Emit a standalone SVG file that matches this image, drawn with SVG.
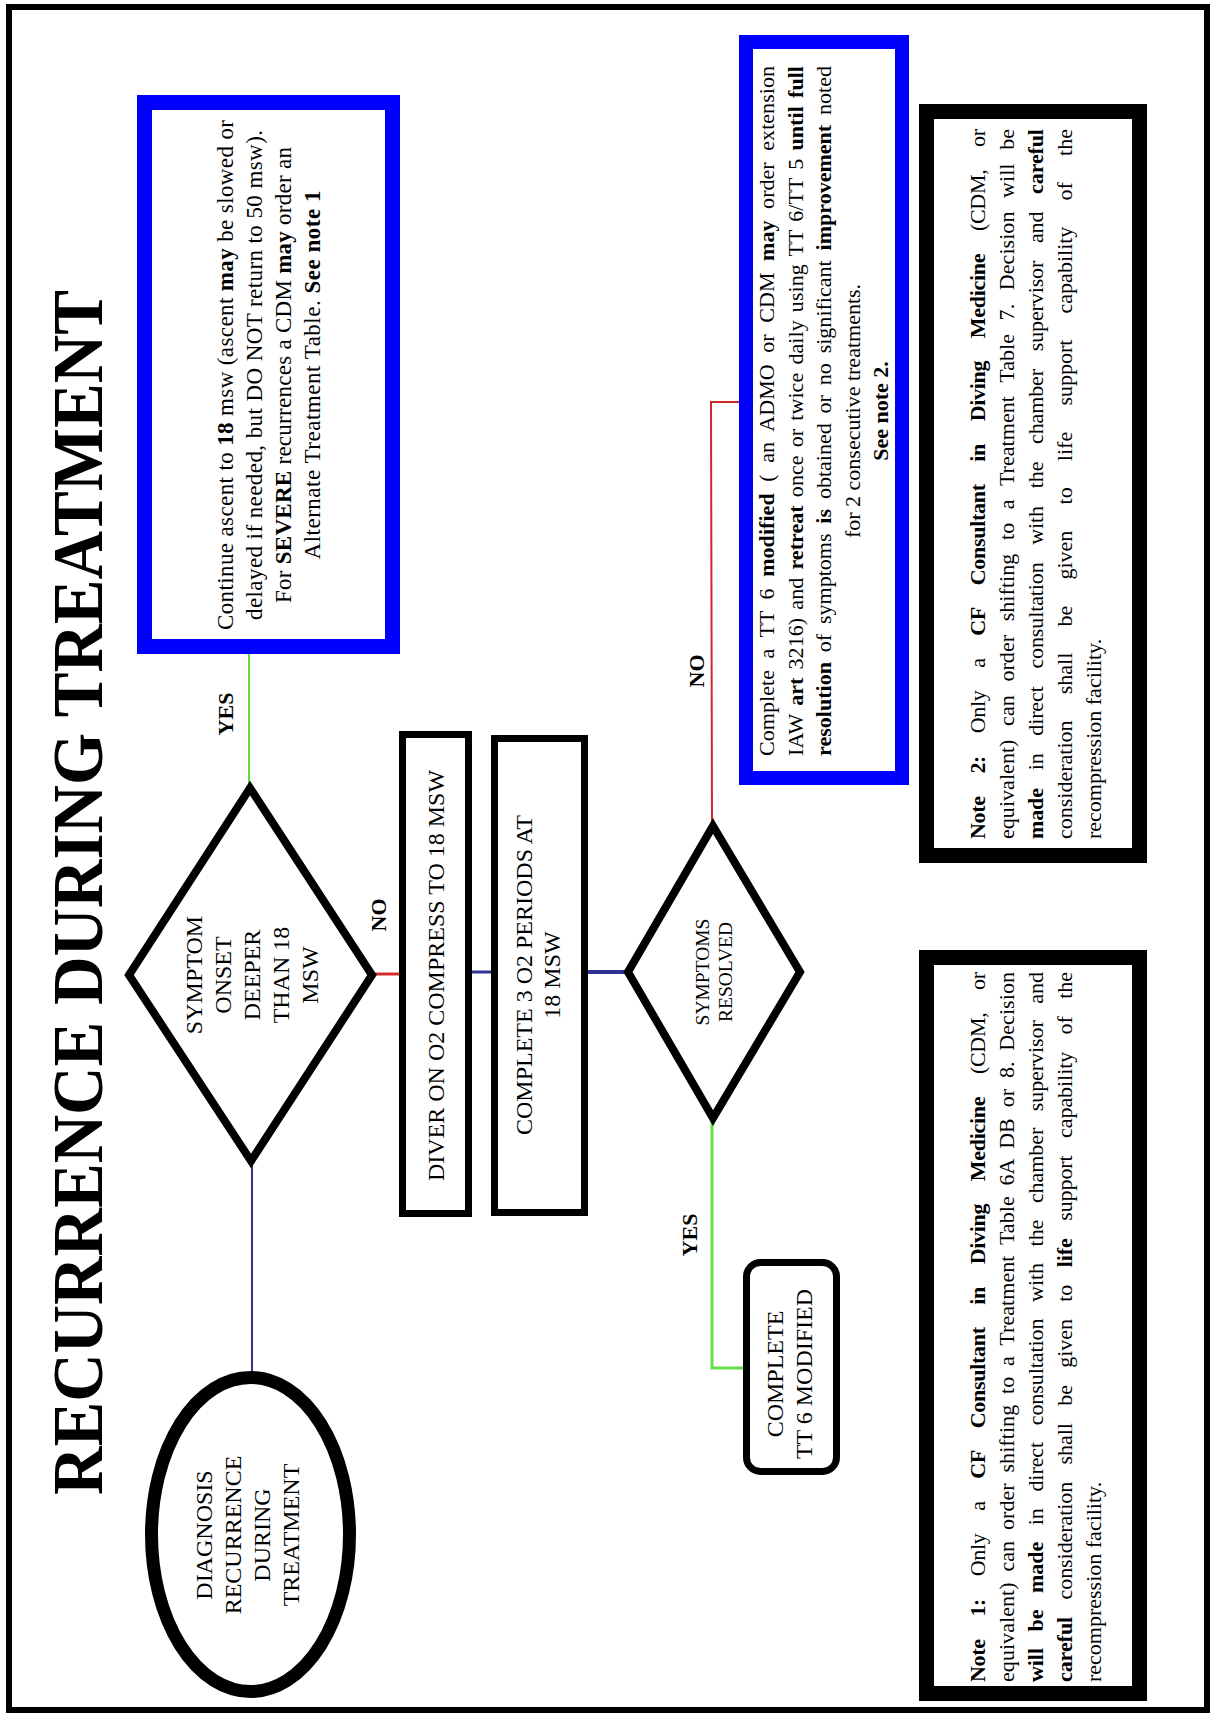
<svg xmlns="http://www.w3.org/2000/svg" width="1212" height="1716" viewBox="0 0 1212 1716">
<style>
text { font-family: "Liberation Serif", "Times New Roman", serif; fill: #000; }
.b { font-weight: bold; }
.c { text-anchor: middle; }
.s { text-anchor: start; }
.node { fill: #fff; stroke: #000; }
.blue { fill: #fff; stroke: #0000ff; }
.f24 { font-size: 24px; }
.f23 { font-size: 23px; }
.f22 { font-size: 22px; }
.lbl { font-size: 22px; font-weight: bold; text-anchor: middle; }
</style>
<rect x="0" y="0" width="1212" height="1716" fill="#fff"/>
<rect id="frame" x="9" y="7" width="1198" height="1703" fill="none" stroke="#000" stroke-width="6"/>

<g id="title">
<text class="b c" font-size="71" transform="translate(0,892.5) rotate(-90)" x="0" y="102" textLength="1205" lengthAdjust="spacingAndGlyphs">RECURRENCE DURING TREATMENT</text>
</g>

<g id="connectors" fill="none">
<line x1="252" y1="1372" x2="252" y2="1165" stroke="#2e3192" stroke-width="2"/>
<line x1="249" y1="784" x2="249" y2="652" stroke="#5fd93f" stroke-width="2"/>
<line x1="375" y1="974" x2="401" y2="974" stroke="#d42a2a" stroke-width="3"/>
<line x1="470" y1="972" x2="493" y2="972" stroke="#2e3192" stroke-width="3"/>
<line x1="586" y1="972" x2="626" y2="972" stroke="#2e3192" stroke-width="4"/>
<polyline points="712,822 711,402 741,402" stroke="#cc2a2a" stroke-width="2"/>
<polyline points="712,1120 712,1368 745,1368" stroke="#66dd44" stroke-width="3"/>
<text class="lbl" transform="translate(0,714) rotate(-90)" x="0" y="233">YES</text>
<text class="lbl" transform="translate(0,915) rotate(-90)" x="0" y="386">NO</text>
<text class="lbl" transform="translate(0,671) rotate(-90)" x="0" y="704">NO</text>
<text class="lbl" transform="translate(0,1235) rotate(-90)" x="0" y="697">YES</text>
</g>

<g id="start">
<ellipse cx="250.5" cy="1534.5" rx="99" ry="157" fill="#fff" stroke="#000" stroke-width="13"/>
<g transform="translate(0,1535) rotate(-90)">
<text class="c f24" x="0" y="212">DIAGNOSIS</text>
<text class="c f24" x="0" y="241">RECURRENCE</text>
<text class="c f24" x="0" y="270">DURING</text>
<text class="c f24" x="0" y="299">TREATMENT</text>
</g>
</g>

<g id="decision1">
<path class="node" d="M250,788 L372,975 L251,1161 L129,975 Z" stroke-width="8"/>
<g transform="translate(0,975) rotate(-90)">
<text class="c f24" x="0" y="202">SYMPTOM</text>
<text class="c f24" x="0" y="231">ONSET</text>
<text class="c f24" x="0" y="260">DEEPER</text>
<text class="c f24" x="0" y="289">THAN 18</text>
<text class="c f24" x="0" y="318">MSW</text>
</g>
</g>

<g id="ascent">
<rect class="blue" x="144.5" y="102.5" width="248" height="544" stroke-width="15"/>
<g transform="translate(0,375) rotate(-90)">
<text class="c f23" x="0" y="233" textLength="510" lengthAdjust="spacing">Continue ascent to <tspan class="b">18</tspan> msw (ascent <tspan class="b">may</tspan> be slowed or</text>
<text class="c f23" x="0" y="262" textLength="490" lengthAdjust="spacing">delayed if needed, but DO NOT return to 50 msw).</text>
<text class="c f23" x="0" y="291" textLength="456" lengthAdjust="spacing">For <tspan class="b">SEVERE</tspan> recurrences a CDM <tspan class="b">may</tspan> order an</text>
<text class="c f23" x="0" y="320" textLength="369" lengthAdjust="spacing">Alternate Treatment Table. <tspan class="b">See note 1</tspan></text>
</g>
</g>

<g id="compress">
<rect class="node" x="402.5" y="734.5" width="66" height="479" stroke-width="7"/>
<text class="c f24" transform="translate(0,975.5) rotate(-90)" x="0" y="444">DIVER ON O2 COMPRESS TO 18 MSW</text>
</g>

<g id="periods">
<rect class="node" x="494.5" y="738.5" width="90" height="474" stroke-width="7"/>
<g transform="translate(0,975) rotate(-90)">
<text class="c f24" x="0" y="532">COMPLETE 3 O2 PERIODS AT</text>
<text class="c f24" x="0" y="560">18 MSW</text>
</g>
</g>

<g id="decision2">
<path class="node" d="M713,826 L800,972 L713,1118 L628,972 Z" stroke-width="8"/>
<g transform="translate(0,972) rotate(-90)">
<text class="c" font-size="19.5" x="0" y="709">SYMPTOMS</text>
<text class="c" font-size="19.5" x="0" y="732">RESOLVED</text>
</g>
</g>

<g id="extension">
<rect class="blue" x="746" y="42" width="156" height="736" stroke-width="14"/>
<g transform="translate(0,411) rotate(-90)">
<text class="c f22" x="0" y="774" word-spacing="6" textLength="690" lengthAdjust="spacing">Complete a TT 6 <tspan class="b">modified</tspan> ( an ADMO or CDM <tspan class="b">may</tspan> order extension</text>
<text class="c f22" x="0" y="802.5" word-spacing="2.6" textLength="690" lengthAdjust="spacing">IAW <tspan class="b">art</tspan> 3216) and <tspan class="b">retreat</tspan> once or twice daily using TT 6/TT 5 <tspan class="b">until full</tspan></text>
<text class="c f22" x="0" y="831" word-spacing="4.3" textLength="690" lengthAdjust="spacing"><tspan class="b">resolution</tspan> of symptoms <tspan class="b">is</tspan> obtained or no significant <tspan class="b">improvement</tspan> noted</text>
<text class="c f22" x="0" y="859.5">for 2 consecutive treatments.</text>
<text class="c f22 b" x="0" y="888">See note 2.</text>
</g>
</g>

<g id="complete-tt6">
<rect class="node" x="746.5" y="1262.5" width="90" height="209" rx="14" stroke-width="7"/>
<g transform="translate(0,1374) rotate(-90)">
<text class="c f24" x="0" y="783">COMPLETE</text>
<text class="c f24" x="0" y="812">TT 6 MODIFIED</text>
</g>
</g>

<g id="note2">
<rect class="node" x="926.5" y="111.5" width="213" height="744" stroke-width="15"/>
<g transform="translate(0,484) rotate(-90)">
<text class="c f22" x="0" y="985" word-spacing="17.4" textLength="710" lengthAdjust="spacing"><tspan class="b">Note 2:</tspan> Only a <tspan class="b">CF Consultant in Diving Medicine</tspan> (CDM, or</text>
<text class="c f22" x="0" y="1014" word-spacing="8.1" textLength="710" lengthAdjust="spacing">equivalent) can order shifting to a Treatment Table 7. Decision will be</text>
<text class="c f22" x="0" y="1043" word-spacing="12.4" textLength="710" lengthAdjust="spacing"><tspan class="b">made</tspan> in direct consultation with the chamber supervisor and <tspan class="b">careful</tspan></text>
<text class="c f22" x="0" y="1072" word-spacing="20.7" textLength="710" lengthAdjust="spacing">consideration shall be given to life support capability of the</text>
</g>
<text class="s f22" transform="translate(0,839) rotate(-90)" x="0" y="1101">recompression facility.</text>
</g>

<g id="note1">
<rect class="node" x="926.5" y="957.5" width="213" height="736" stroke-width="15"/>
<g transform="translate(0,1327) rotate(-90)">
<text class="c f22" x="0" y="985" word-spacing="17.4" textLength="710" lengthAdjust="spacing"><tspan class="b">Note 1:</tspan> Only a <tspan class="b">CF Consultant in Diving Medicine</tspan> (CDM, or</text>
<text class="c f22" x="0" y="1014" word-spacing="5.25" textLength="710" lengthAdjust="spacing">equivalent) can order shifting to a Treatment Table 6A DB or 8. Decision</text>
<text class="c f22" x="0" y="1043" word-spacing="11.2" textLength="710" lengthAdjust="spacing"><tspan class="b">will be made</tspan> in direct consultation with the chamber supervisor and</text>
<text class="c f22" x="0" y="1072" word-spacing="12" textLength="710" lengthAdjust="spacing"><tspan class="b">careful</tspan> consideration shall be given to <tspan class="b">life</tspan> support capability of the</text>
</g>
<text class="s f22" transform="translate(0,1682) rotate(-90)" x="0" y="1101">recompression facility.</text>
</g>
</svg>
